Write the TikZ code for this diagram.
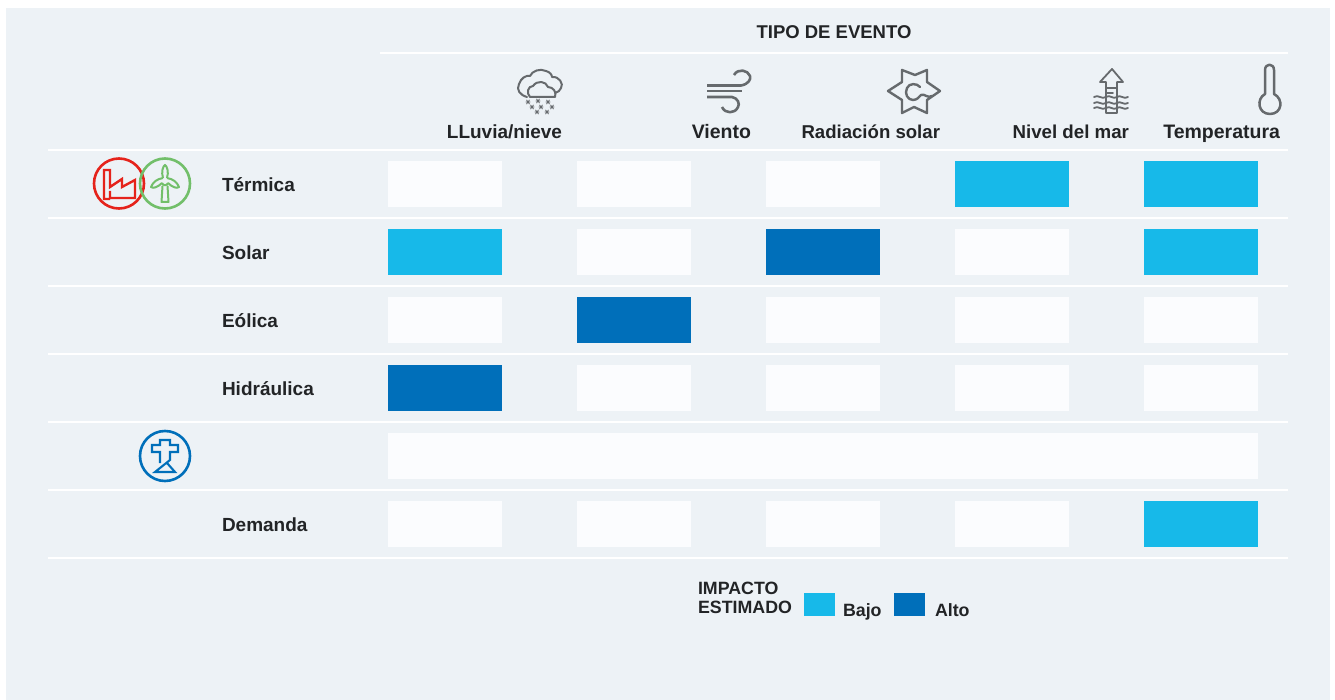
\documentclass[tikz,border=0pt]{standalone}
\usepackage{fontspec}
\setmainfont{Liberation Sans}
\definecolor{panel}{HTML}{EDF2F6}
\definecolor{cellw}{HTML}{FBFCFE}
\definecolor{lowc}{HTML}{17B9E9}
\definecolor{highc}{HTML}{006FBA}
\definecolor{ink}{HTML}{222426}
\definecolor{icong}{HTML}{666A6D}
\definecolor{redc}{HTML}{E5231B}
\definecolor{greenc}{HTML}{72BF6A}
\tikzset{
  x=1pt,y=-1pt,
  cellbox/.style={fill=cellw,draw=none,minimum width=114pt,minimum height=46pt,inner sep=0pt,outer sep=0pt},
  lowbox/.style={cellbox,fill=lowc},
  highbox/.style={cellbox,fill=highc},
  rule/.style={draw=white,line width=2.6pt},
  lab/.style={font=\fontsize{19}{20}\selectfont\bfseries,text=ink,inner sep=0pt,outer sep=0pt},
  leglab/.style={lab,font=\fontsize{17.8}{19}\selectfont\bfseries},
  rowlab/.style={lab,anchor=west},
  collab/.style={lab,anchor=base east},
  ico/.style={draw=icong,line width=2pt,line join=round,line cap=round,fill=none},
}
\begin{document}
\begin{tikzpicture}
\useasboundingbox (0,0) rectangle (1335,700);
\fill[panel] (6,8) rectangle (1330,700);
% rules
\coordinate (h0a) at (380,53); \coordinate (h0b) at (1288,53);
\draw[rule] (h0a) -- (h0b);
\foreach \y in {150,218,286,354,422,490,558}{
  \coordinate (ra) at (48,\y); \coordinate (rb) at (1288,\y);
  \draw[rule] (ra) -- (rb);
}
\node[lab,font=\fontsize{18.5}{20}\selectfont\bfseries] (title) at (834,32.5) {TIPO DE EVENTO};
% columns
\node[collab] (c1) at (562,138.5) {LLuvia/nieve};
\node[collab,font=\fontsize{19.5}{20}\selectfont\bfseries] (c2) at (751,138.5) {Viento};
\node[collab,font=\fontsize{18.6}{20}\selectfont\bfseries] (c3) at (940,138.5) {Radiación solar};
\node[collab,font=\fontsize{18.7}{20}\selectfont\bfseries] (c4) at (1129,138.5) {Nivel del mar};
\node[collab,font=\fontsize{19.5}{20}\selectfont\bfseries] (c5) at (1280,138.5) {Temperatura};
% rows
\node[rowlab] (r1) at (222,184.5) {Térmica};
\node[rowlab] (r2) at (222,252.5) {Solar};
\node[rowlab] (r3) at (222,320.5) {Eólica};
\node[rowlab] (r4) at (222,388.5) {Hidráulica};
\node[rowlab] (r6) at (222,524.5) {Demanda};
% cells
\foreach \r/\y/\a/\b/\c/\d/\e in {
 1/184/cellbox/cellbox/cellbox/lowbox/lowbox,
 2/252/lowbox/cellbox/highbox/cellbox/lowbox,
 3/320/cellbox/highbox/cellbox/cellbox/cellbox,
 4/388/highbox/cellbox/cellbox/cellbox/cellbox,
 6/524/cellbox/cellbox/cellbox/cellbox/lowbox}{
  \node[\a] (m\r a) at (445,\y) {};
  \node[\b] (m\r b) at (634,\y) {};
  \node[\c] (m\r c) at (823,\y) {};
  \node[\d] (m\r d) at (1012,\y) {};
  \node[\e] (m\r e) at (1201,\y) {};
}
\node[cellbox,minimum width=870pt] (m5) at (823,456) {};
% legend
\node[leglab,anchor=north west,align=left] (lt) at (698,582) {IMPACTO\\ESTIMADO};
\node[lowbox,minimum width=31pt,minimum height=23pt] (l1) at (819.5,604.5) {};
\node[leglab,anchor=base west] (l1t) at (843,616) {Bajo};
\node[highbox,minimum width=31pt,minimum height=23pt] (l2) at (909.5,604.5) {};
\node[leglab,anchor=base west] (l2t) at (935,616) {Alto};
% factory and turbine
\draw[redc,line width=2.6pt] (119,183.5) circle (25);
\draw[redc,line width=2.4pt,line join=miter] (110,191) -- (110,198) -- (135,198) -- (135,180) -- (122,187) -- (122,179) -- (110,187) -- (110,170) -- (104,170) -- (104,199) -- (110,199);
\draw[greenc,line width=2.6pt] (165,183.5) circle (25);
\draw[greenc,line width=2pt,line join=round] (162.5,186) -- (161.5,202) -- (168.5,202) -- (167.5,186)
 (163,178) .. controls (161,172) and (163,166) .. (165,165) .. controls (167,166) and (169,172) .. (167,178)
 (162,183) .. controls (158,187) and (153,189) .. (151,187) .. controls (153,182) and (157,179) .. (163,178)
 (167,178) .. controls (173,179) and (177,182) .. (179,187) .. controls (177,189) and (172,187) .. (168,183)
 (162,183) .. controls (163,186) and (167,186) .. (168,183);
% tower
\draw[highc,line width=2.6pt] (165,456) circle (25);
\draw[highc,line width=2.1pt,line join=miter] (160,463) -- (160,452) -- (152,452) -- (152,445) -- (160,445) -- (160,440) -- (170,440) -- (170,445) -- (178,445) -- (178,452) -- (170,452) -- (170,460) -- (155,472) -- (175,472) -- (167,463);
% rain/snow icon
\begin{scope}[ico]
\draw (527,97) .. controls (520,95) and (516,90) .. (519,84) .. controls (521,78) and (526,75) .. (530,76) .. controls (532,71) and (540,68) .. (546,71) .. controls (550,72) and (552,75) .. (552,77) .. controls (559,76) and (564,84) .. (561,88) .. controls (560,91) and (558,92) .. (555,93);
\draw (530,97) .. controls (526,93) and (528,86) .. (533,86) .. controls (537,80) and (546,81) .. (548,87) .. controls (553,87) and (557,92) .. (555,97) -- cycle;
\end{scope}
\foreach \sx/\sy in {528/102,538/101,548/102,532/107,541/107,552/107,537/112,547/112}{
  \draw[icong,line width=.8pt] (\sx-2.4,\sy) -- (\sx+2.4,\sy) (\sx-1.5,\sy-2.1) -- (\sx+1.5,\sy+2.1) (\sx-1.5,\sy+2.1) -- (\sx+1.5,\sy-2.1);
}
% wind icon
\begin{scope}[ico,line width=2.6pt]
\draw[line cap=butt] (707,85.5) -- (741,85.5) .. controls (749,84) and (751,79) .. (750,76) .. controls (748,70) and (738,68) .. (734,75);
\draw[line cap=butt] (707,91) -- (742,91);
\draw[line cap=butt] (707,97) -- (732,97) .. controls (738,98) and (740,104) .. (738,107) .. controls (735,114) and (725,114) .. (722,107);
\end{scope}
% sun icon
\begin{scope}[ico,line width=2.4pt]
\draw (902,70) -- (915,75) -- (927,70) -- (927,82) -- (940,91) -- (927,100) -- (927,113) -- (914,107) -- (902,113) -- (902,100) -- (888,91) -- (902,82) -- cycle;
\draw (920,87) .. controls (917,83) and (909,83) .. (907,88) .. controls (904,94) and (908,100) .. (913,100) .. controls (917,100) and (919,97) .. (921,95) .. controls (924,93) and (928,99) .. (932,96);
\end{scope}
% sea level icon
\begin{scope}[ico,line width=1.8pt]
\draw (1106,113) -- (1106,82) -- (1100,82) -- (1112,69) -- (1123,82) -- (1117,82) -- (1117,113) -- cycle;
\draw (1106,88) -- (1117,88) (1106,93) -- (1113,93);
\foreach \wy in {97,103,108}{
  \draw (1094,\wy) .. controls (1098,\wy-3) and (1102,\wy+3) .. (1106,\wy) .. controls (1110,\wy-3) and (1113,\wy+3) .. (1117,\wy) .. controls (1120,\wy-3) and (1124,\wy+3) .. (1128,\wy);
}
\end{scope}
% thermometer icon
\begin{scope}[ico,line width=2.5pt]
\draw (1265,94) -- (1265,70) .. controls (1265,63) and (1274,63) .. (1274,70) -- (1274,94)
 .. controls (1284,99) and (1282,114) .. (1270,114) .. controls (1258,114) and (1256,99) .. (1265,94) -- cycle;
\end{scope}
\end{tikzpicture}
\end{document}
